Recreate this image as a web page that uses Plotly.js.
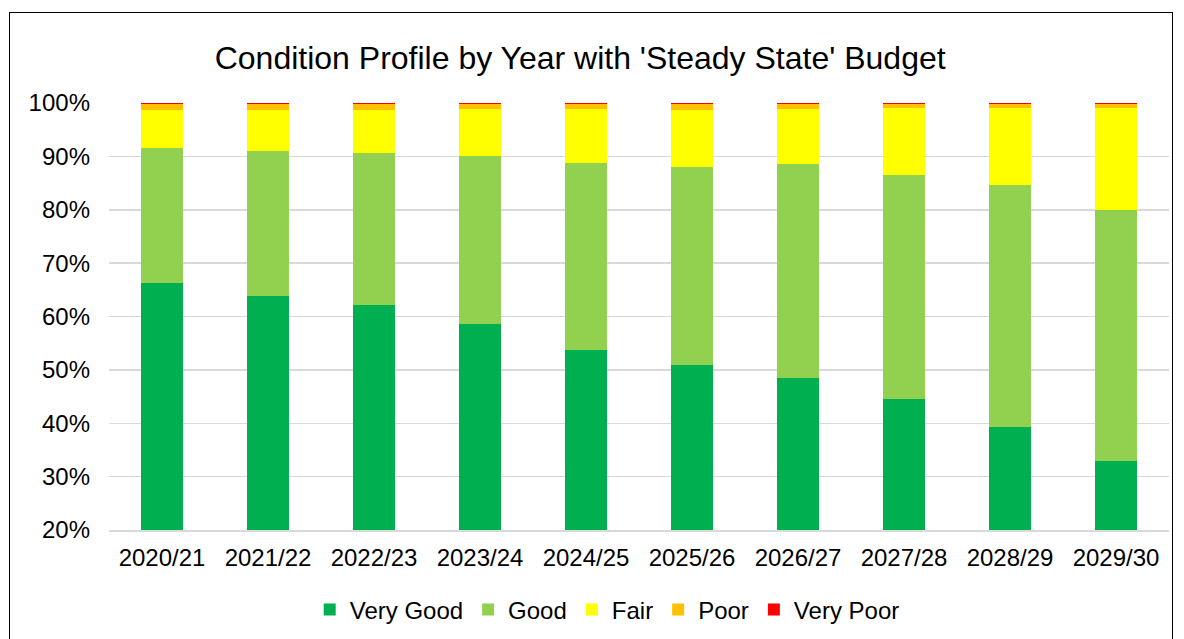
<!DOCTYPE html>
<html><head><meta charset="utf-8">
<script src="https://cdn.plot.ly/plotly-3.0.1.min.js"></script>
<style>
html,body{margin:0;padding:0;background:#fff;}
#wrap{position:relative;width:1184px;height:639px;overflow:hidden;}
#chart{width:1184px;height:639px;}
#border{position:absolute;left:9px;top:12px;width:1162px;height:700px;border:1.5px solid #000;pointer-events:none;}
</style></head>
<body>
<div id="wrap"><div id="chart"></div><div id="border"></div></div>
<script>
const years = ["2020/21","2021/22","2022/23","2023/24","2024/25","2025/26","2026/27","2027/28","2028/29","2029/30"];
const veryGood = [66.3, 63.9, 62.2, 58.6, 53.8, 51.0, 48.5, 44.6, 39.3, 33.0];
const good     = [25.2, 27.2, 28.4, 31.5, 35.0, 37.1, 40.1, 41.9, 45.4, 47.0];
const fair     = [7.1, 7.5, 8.0, 8.7, 10.1, 10.6, 10.3, 12.6, 14.4, 19.1];
const poor     = [1.3, 1.3, 1.3, 1.0, 1.0, 1.1, 0.9, 0.7, 0.75, 0.75];
const veryPoor = [0.1, 0.1, 0.1, 0.2, 0.1, 0.15, 0.15, 0.2, 0.15, 0.15];

const series = [
  {name:"Very Good", y:veryGood, color:"#00B050"},
  {name:"Good", y:good, color:"#92D050"},
  {name:"Fair", y:fair, color:"#FFFF00"},
  {name:"Poor", y:poor, color:"#FFC000"},
  {name:"Very Poor", y:veryPoor, color:"#FF0000"}
];
const traces = series.map(s => ({
  type:"bar", name:s.name, x:years, y:s.y,
  marker:{color:s.color, line:{width:0}}
}));
const font = {family:"Liberation Sans, Arial, sans-serif", color:"#000"};
const layout = {
  width:1184, height:639,
  barmode:"stack", bargap:0.6,
  margin:{l:109, r:15, t:103, b:109, autoexpand:false},
  paper_bgcolor:"#fff", plot_bgcolor:"#fff",
  font:font,
  title:{text:"Condition Profile by Year with 'Steady State' Budget", x:0.49, xanchor:"center", xref:"container",
         y:1-58/639, yanchor:"middle", yref:"container", font:{family:font.family, size:32, color:"#000"}},
  xaxis:{type:"category", automargin:false, tickfont:{size:24, color:"#000"}, showgrid:false, showline:true, linecolor:"#d9d9d9", linewidth:1.5, ticks:"", ticklen:0, ticklabelstandoff:6},
  yaxis:{range:[20,100], automargin:false, dtick:10, tick0:0, ticksuffix:"%", tickfont:{size:24, color:"#000"}, showgrid:true, gridcolor:"#d9d9d9", gridwidth:1.5, zeroline:false, showline:false, ticks:"", ticklabelstandoff:18},
  legend:{orientation:"h", x:0.47, xanchor:"center", y:-80/427, yanchor:"middle", font:{size:24, color:"#000"}, traceorder:"normal", itemwidth:30},
  showlegend:true
};
Plotly.newPlot("chart", traces, layout, {staticPlot:true, displayModeBar:false});
</script>
</body></html>
